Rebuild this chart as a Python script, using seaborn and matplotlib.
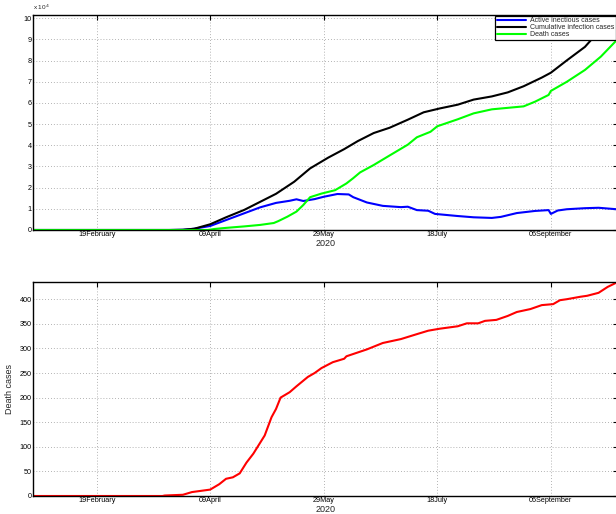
import matplotlib
matplotlib.use("Agg")
import matplotlib.pyplot as plt
import seaborn as sns
import pandas as pd

# ---------------- data (top panel values in units of 10^4) ----------------
cum_dates = ["2020-01-22", "2020-03-22", "2020-03-28", "2020-04-02", "2020-04-09", "2020-04-16",
             "2020-04-24", "2020-05-01", "2020-05-08", "2020-05-16", "2020-05-23", "2020-05-31",
             "2020-06-07", "2020-06-13", "2020-06-20", "2020-06-27", "2020-07-05", "2020-07-12",
             "2020-07-19", "2020-07-27", "2020-08-03", "2020-08-11", "2020-08-18", "2020-08-25",
             "2020-09-02", "2020-09-06", "2020-09-13", "2020-09-21", "2020-09-25", "2020-10-05"]
cum_vals = [0, 0, 0.01, 0.06, 0.27, 0.60, 0.95, 1.33, 1.71, 2.28, 2.91, 3.42, 3.82, 4.20, 4.58,
            4.83, 5.21, 5.56, 5.74, 5.92, 6.16, 6.31, 6.50, 6.79, 7.20, 7.43, 8.01, 8.65, 9.13, 10.25]

act_dates = ["2020-01-22", "2020-03-22", "2020-03-28", "2020-04-02", "2020-04-09", "2020-04-16",
             "2020-04-24", "2020-05-01", "2020-05-08", "2020-05-14", "2020-05-17", "2020-05-20",
             "2020-05-25", "2020-05-29", "2020-06-04", "2020-06-09", "2020-06-11", "2020-06-17",
             "2020-06-24", "2020-07-02", "2020-07-05", "2020-07-09", "2020-07-14", "2020-07-17",
             "2020-07-27", "2020-08-03", "2020-08-11", "2020-08-15", "2020-08-22", "2020-08-30",
             "2020-09-05", "2020-09-06", "2020-09-09", "2020-09-13", "2020-09-21", "2020-09-27",
             "2020-10-05"]
act_vals = [0, 0, 0.01, 0.06, 0.19, 0.47, 0.79, 1.07, 1.28, 1.38, 1.45, 1.37, 1.46, 1.57, 1.70,
            1.68, 1.55, 1.30, 1.14, 1.08, 1.10, 0.94, 0.91, 0.76, 0.66, 0.60, 0.57, 0.62, 0.80,
            0.90, 0.94, 0.76, 0.92, 0.98, 1.03, 1.05, 0.98]

dth_dates = ["2020-01-22", "2020-04-08", "2020-04-11", "2020-04-16", "2020-04-24", "2020-05-01",
             "2020-05-07", "2020-05-09", "2020-05-13", "2020-05-17", "2020-05-20", "2020-05-23",
             "2020-05-28", "2020-06-03", "2020-06-08", "2020-06-11", "2020-06-14", "2020-06-20",
             "2020-06-27", "2020-07-05", "2020-07-09", "2020-07-15", "2020-07-18", "2020-07-27",
             "2020-08-03", "2020-08-11", "2020-08-18", "2020-08-25", "2020-08-30", "2020-09-05",
             "2020-09-06", "2020-09-13", "2020-09-21", "2020-09-28", "2020-10-05"]
dth_vals = [0, 0, 0.05, 0.10, 0.17, 0.24, 0.33, 0.42, 0.63, 0.87, 1.18, 1.55, 1.72, 1.88, 2.20,
            2.45, 2.72, 3.07, 3.52, 4.03, 4.38, 4.64, 4.90, 5.23, 5.51, 5.70, 5.77, 5.84, 6.06,
            6.38, 6.57, 7.00, 7.56, 8.19, 8.97]

# bottom panel: death cases
red_dates = ["2020-01-22", "2020-03-19", "2020-03-20", "2020-03-28", "2020-04-01", "2020-04-09",
             "2020-04-13", "2020-04-16", "2020-04-19", "2020-04-22", "2020-04-25", "2020-04-28",
             "2020-05-03", "2020-05-06", "2020-05-08", "2020-05-10", "2020-05-14", "2020-05-17",
             "2020-05-22", "2020-05-25", "2020-05-28", "2020-06-02", "2020-06-07", "2020-06-08",
             "2020-06-17", "2020-06-24", "2020-07-02", "2020-07-09", "2020-07-14", "2020-07-19",
             "2020-07-27", "2020-07-31", "2020-08-05", "2020-08-08", "2020-08-13", "2020-08-18",
             "2020-08-22", "2020-08-28", "2020-09-02", "2020-09-07", "2020-09-10", "2020-09-13",
             "2020-09-19", "2020-09-22", "2020-09-27", "2020-10-01", "2020-10-05"]
red_vals = [0, 0, 1, 2.5, 8, 13, 24, 35, 38, 46, 68, 86, 123, 160, 177, 200, 211, 223, 242, 250,
            260, 272, 279, 284, 298, 311, 319, 329, 336, 340, 345, 351, 351, 356, 358, 366, 374,
            380, 388, 390, 398, 400, 405, 407, 413, 425, 434]

tick_dates = ["2020-02-19", "2020-04-09", "2020-05-29", "2020-07-18", "2020-09-06"]
tick_labels = ["19February", "09April", "29May", "18July", "06September"]
top_yticks = list(range(0, 11))
bot_yticks = list(range(0, 401, 50))
legend_labels = ["Active inectious cases", "Cumulative infection cases", "Death cases"]

# ---------------- figure ----------------
sns.set_style("white")
plt.rcParams["font.family"] = ["Liberation Sans", "DejaVu Sans"]

W, H = 616, 514
fig = plt.figure(figsize=(W / 100, H / 100), dpi=100)
L, R = 33 / W, 617.5 / W
ax1 = fig.add_axes([L, 1 - 230 / H, R - L, (230 - 14.7) / H])
ax2 = fig.add_axes([L, 1 - 496 / H, R - L, (496 - 281.5) / H])

def df(d, v):
    return pd.DataFrame({"date": pd.to_datetime(d), "value": v})

lw = 1.5
sns.lineplot(data=df(act_dates, act_vals), x="date", y="value", ax=ax1, color="#0000ff",
             lw=lw, label=legend_labels[0])
sns.lineplot(data=df(cum_dates, cum_vals), x="date", y="value", ax=ax1, color="black",
             lw=lw, label=legend_labels[1])
sns.lineplot(data=df(dth_dates, dth_vals), x="date", y="value", ax=ax1, color="#00ff00",
             lw=lw, label=legend_labels[2])
sns.lineplot(data=df(red_dates, red_vals), x="date", y="value", ax=ax2, color="#ff0000",
             lw=lw)

xlim = (pd.Timestamp("2020-01-22"), pd.Timestamp("2020-10-05 08:00"))
for ax, ly in ((ax1, -0.042), (ax2, -0.040)):
    ax.set_xlim(*xlim)
    ax.set_xticks(pd.to_datetime(tick_dates))
    ax.set_xticklabels(tick_labels, fontsize=5.2)
    ax.set_xlabel("2020", fontsize=6.5, labelpad=0)
    ax.xaxis.set_label_coords((326 - 33) / (617.5 - 33), ly)
    ax.tick_params(direction="in", top=True, right=True, length=3.5, width=0.8,
                   labelsize=5.2, pad=1.0, colors="black")
    ax.grid(True, color="#9a9a9a", linestyle=(0, (1, 2.5)), linewidth=0.6)
    for s in ax.spines.values():
        s.set_color("black")
        s.set_linewidth(1.0)

ax1.set_ylim(0, 10.17)
ax1.set_yticks(top_yticks)
ax1.set_ylabel("")
ax1.text(0.0, 1.012, r"x 10$^{4}$", transform=ax1.transAxes, fontsize=4.6, ha="left", va="bottom")

ax2.set_ylim(0, 436)
ax2.set_yticks(bot_yticks)
ax2.set_ylabel("Death cases", fontsize=6.5, labelpad=4)

leg = ax1.legend(loc="upper right", fontsize=5, frameon=True, fancybox=False,
                 edgecolor="black", framealpha=1, handlelength=4.2, labelspacing=0.0,
                 borderpad=0.25, borderaxespad=0.15, handletextpad=0.6)
leg.get_frame().set_linewidth(0.9)

fig.savefig("out.png", dpi=100)
